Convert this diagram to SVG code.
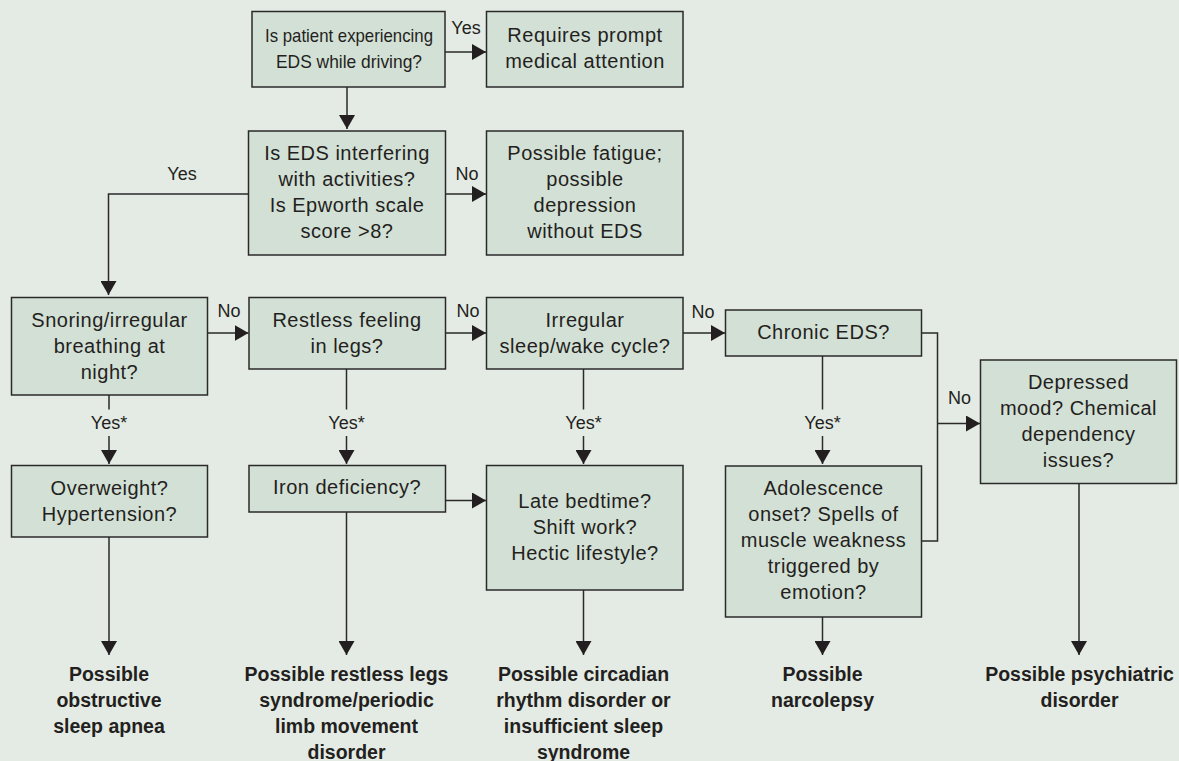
<svg xmlns="http://www.w3.org/2000/svg" width="1179" height="761" viewBox="0 0 1179 761">
<defs>
<style>
.bg{fill:#e4ebe4}
.box{fill:#d3e0d6;stroke:#2a2a2a;stroke-width:1.5}
.t{font-family:"Liberation Sans",Arial,sans-serif;font-size:20px;fill:#231f20;text-anchor:middle;letter-spacing:0.5px}
.ts{font-family:"Liberation Sans",Arial,sans-serif;font-size:19px;fill:#231f20;text-anchor:middle}
.lb{font-family:"Liberation Sans",Arial,sans-serif;font-size:18px;fill:#231f20;text-anchor:middle}
.b{font-family:"Liberation Sans",Arial,sans-serif;font-size:19.5px;font-weight:bold;fill:#231f20;text-anchor:middle}
.c{fill:none;stroke:#2a2a2a;stroke-width:1.5}
</style>
<marker id="ah" markerUnits="userSpaceOnUse" markerWidth="15" markerHeight="16" refX="14" refY="8" orient="auto">
<path d="M0,0 L14,8 L0,16 z" fill="#231f20"/>
</marker>
</defs>
<rect class="bg" x="0" y="0" width="1179" height="761"/>

<g id="connectors">
<line class="c" x1="445" y1="52" x2="486" y2="52" marker-end="url(#ah)"/>
<line class="c" x1="347" y1="87" x2="347" y2="129" marker-end="url(#ah)"/>
<line class="c" x1="445.5" y1="194" x2="486" y2="194" marker-end="url(#ah)"/>
<polyline class="c" points="248.5,194 108.5,194 108.5,295" marker-end="url(#ah)"/>
<line class="c" x1="207.5" y1="333" x2="248.5" y2="333" marker-end="url(#ah)"/>
<line class="c" x1="445.5" y1="333" x2="486" y2="333" marker-end="url(#ah)"/>
<line class="c" x1="683" y1="333" x2="725" y2="333" marker-end="url(#ah)"/>
<polyline class="c" points="921.5,333 937.5,333 937.5,541 921.5,541"/>
<line class="c" x1="937.5" y1="423.5" x2="980" y2="423.5" marker-end="url(#ah)"/>
<line class="c" x1="109" y1="395" x2="109" y2="409.5"/>
<line class="c" x1="109" y1="436" x2="109" y2="464" marker-end="url(#ah)"/>
<line class="c" x1="346.5" y1="369" x2="346.5" y2="409.5"/>
<line class="c" x1="346.5" y1="436" x2="346.5" y2="464" marker-end="url(#ah)"/>
<line class="c" x1="583.5" y1="369" x2="583.5" y2="409.5"/>
<line class="c" x1="583.5" y1="436" x2="583.5" y2="464" marker-end="url(#ah)"/>
<line class="c" x1="822.5" y1="356" x2="822.5" y2="409.5"/>
<line class="c" x1="822.5" y1="436" x2="822.5" y2="464" marker-end="url(#ah)"/>
<line class="c" x1="445.5" y1="500.5" x2="486" y2="500.5" marker-end="url(#ah)"/>
<line class="c" x1="109" y1="537" x2="109" y2="655" marker-end="url(#ah)"/>
<line class="c" x1="346.5" y1="512" x2="346.5" y2="655" marker-end="url(#ah)"/>
<line class="c" x1="583.5" y1="590" x2="583.5" y2="655" marker-end="url(#ah)"/>
<line class="c" x1="822.5" y1="617" x2="822.5" y2="655" marker-end="url(#ah)"/>
<line class="c" x1="1079" y1="483" x2="1079" y2="655" marker-end="url(#ah)"/>
<text class="lb" x="466" y="33.5">Yes</text>
<text class="lb" x="467" y="180">No</text>
<text class="lb" x="182" y="180">Yes</text>
<text class="lb" x="229" y="317">No</text>
<text class="lb" x="468" y="317">No</text>
<text class="lb" x="703" y="318">No</text>
<text class="lb" x="959.5" y="404">No</text>
<text class="lb" x="109" y="428.5">Yes*</text>
<text class="lb" x="346.5" y="428.5">Yes*</text>
<text class="lb" x="583.5" y="428.5">Yes*</text>
<text class="lb" x="822.5" y="428.5">Yes*</text>
</g>

<g id="n1"><rect class="box" x="252" y="11.5" width="193" height="75.5"/>
<text class="ts" x="349" y="42" textLength="168" lengthAdjust="spacingAndGlyphs">Is patient experiencing</text><text class="ts" x="349" y="68" textLength="146" lengthAdjust="spacingAndGlyphs">EDS while driving?</text></g>
<g id="n2"><rect class="box" x="486.5" y="11.5" width="196.5" height="75.5"/>
<text class="t" x="585" y="42">Requires prompt</text><text class="t" x="585" y="68">medical attention</text></g>
<g id="n3"><rect class="box" x="248.5" y="131" width="197" height="124"/>
<text class="t" x="347" y="159.5">Is EDS interfering</text><text class="t" x="347" y="185.5">with activities?</text><text class="t" x="347" y="211.5">Is Epworth scale</text><text class="t" x="347" y="237.5">score &gt;8?</text></g>
<g id="n4"><rect class="box" x="486.5" y="131" width="196.5" height="124"/>
<text class="t" x="585" y="159.5">Possible fatigue;</text><text class="t" x="585" y="185.5">possible</text><text class="t" x="585" y="211.5">depression</text><text class="t" x="585" y="237.5">without EDS</text></g>
<g id="n5"><rect class="box" x="11.5" y="297.5" width="196" height="97.5"/>
<text class="t" x="109.5" y="326.5">Snoring/irregular</text><text class="t" x="109.5" y="352.5">breathing at</text><text class="t" x="109.5" y="378.5">night?</text></g>
<g id="n6"><rect class="box" x="249" y="297.5" width="196.5" height="71.5"/>
<text class="t" x="347" y="326.5">Restless feeling</text><text class="t" x="347" y="352.5">in legs?</text></g>
<g id="n7"><rect class="box" x="486.5" y="297.5" width="196.5" height="71.5"/>
<text class="t" x="585" y="326.5">Irregular</text><text class="t" x="585" y="352.5">sleep/wake cycle?</text></g>
<g id="n8"><rect class="box" x="725.5" y="310" width="196" height="46"/>
<text class="t" x="823.5" y="339">Chronic EDS?</text></g>
<g id="n9"><rect class="box" x="980.5" y="360" width="196" height="123.5"/>
<text class="t" x="1078.5" y="388.5">Depressed</text><text class="t" x="1078.5" y="414.5">mood? Chemical</text><text class="t" x="1078.5" y="440.5">dependency</text><text class="t" x="1078.5" y="466.5">issues?</text></g>
<g id="n10"><rect class="box" x="11.5" y="465.5" width="196" height="71.5"/>
<text class="t" x="109.5" y="494.5">Overweight?</text><text class="t" x="109.5" y="520.5">Hypertension?</text></g>
<g id="n11"><rect class="box" x="249" y="465.5" width="196.5" height="46.5"/>
<text class="t" x="347" y="494">Iron deficiency?</text></g>
<g id="n12"><rect class="box" x="486.5" y="465.5" width="196.5" height="124.5"/>
<text class="t" x="585" y="507.5">Late bedtime?</text><text class="t" x="585" y="533.5">Shift work?</text><text class="t" x="585" y="559.5">Hectic lifestyle?</text></g>
<g id="n13"><rect class="box" x="725.5" y="466" width="196" height="151"/>
<text class="t" x="823.5" y="495">Adolescence</text><text class="t" x="823.5" y="521">onset? Spells of</text><text class="t" x="823.5" y="547">muscle weakness</text><text class="t" x="823.5" y="573">triggered by</text><text class="t" x="823.5" y="599">emotion?</text></g>
<g id="o1"><text class="b" x="109" y="680.5">Possible</text><text class="b" x="109" y="706.5">obstructive</text><text class="b" x="109" y="732.5">sleep apnea</text></g>
<g id="o2"><text class="b" x="346.5" y="680.5">Possible restless legs</text><text class="b" x="346.5" y="706.5">syndrome/periodic</text><text class="b" x="346.5" y="732.5">limb movement</text><text class="b" x="346.5" y="758.5">disorder</text></g>
<g id="o3"><text class="b" x="583.5" y="680.5">Possible circadian</text><text class="b" x="583.5" y="706.5">rhythm disorder or</text><text class="b" x="583.5" y="732.5">insufficient sleep</text><text class="b" x="583.5" y="758.5">syndrome</text></g>
<g id="o4"><text class="b" x="822.5" y="680.5">Possible</text><text class="b" x="822.5" y="706.5">narcolepsy</text></g>
<g id="o5"><text class="b" x="1079.5" y="680.5">Possible psychiatric</text><text class="b" x="1079.5" y="706.5">disorder</text></g>
</svg>
